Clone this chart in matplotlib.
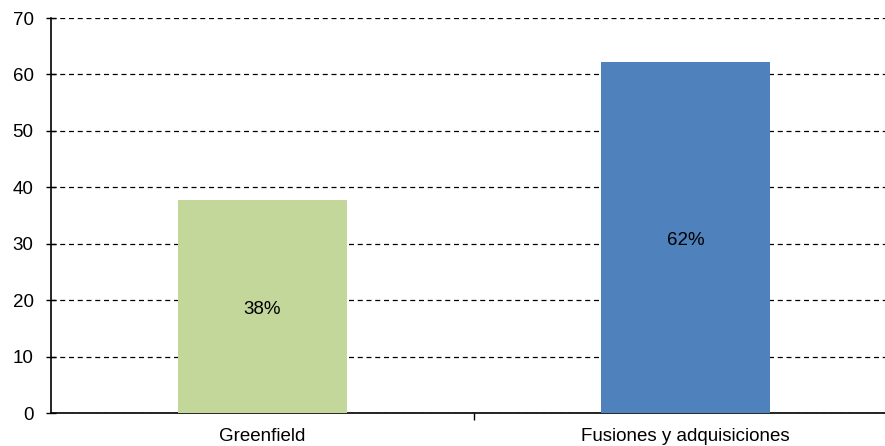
import matplotlib.pyplot as plt

plt.rcParams["font.family"] = ["Liberation Sans", "DejaVu Sans"]

categories = ["Greenfield", "Fusiones y adquisiciones"]
values = [37.8, 62.2]
labels = ["38%", "62%"]
colors = ["#c4d79b", "#4f81bd"]

W, H = 885, 446
fig = plt.figure(figsize=(W / 100, H / 100), dpi=100)
ax = fig.add_axes([51 / W, 33 / H, (885 - 51) / W, 395 / H])

x = range(len(categories))
ax.bar(x, values, width=0.40, color=colors, zorder=3)
for xi, v, t in zip(x, values, labels):
    ax.text(xi, v / 2 - 0.5, t, ha="center", va="center", fontsize=13.5, zorder=4)

ax.set_xlim(-0.5, 1.472)
ax.set_ylim(0, 70)
ax.set_yticks(range(0, 71, 10))
ax.tick_params(axis="y", labelsize=13.5, length=7, direction="inout", width=1, pad=9)
ax.set_xticks([0.5])
ax.set_xticklabels([""])
ax.tick_params(axis="x", length=5, direction="out", width=1)
ax.set_xticks(list(x), minor=True)
ax.set_xticklabels(categories, minor=True, fontsize=13.5)
ax.tick_params(axis="x", which="minor", length=0, pad=11)

ax.grid(axis="y", color="black", linestyle=(0, (4, 3)), linewidth=0.9, zorder=0)
ax.spines["top"].set_visible(False)
ax.spines["right"].set_visible(False)
ax.spines["left"].set_linewidth(1.2)
ax.spines["bottom"].set_linewidth(1.2)

fig.savefig("out.png", dpi=100)
